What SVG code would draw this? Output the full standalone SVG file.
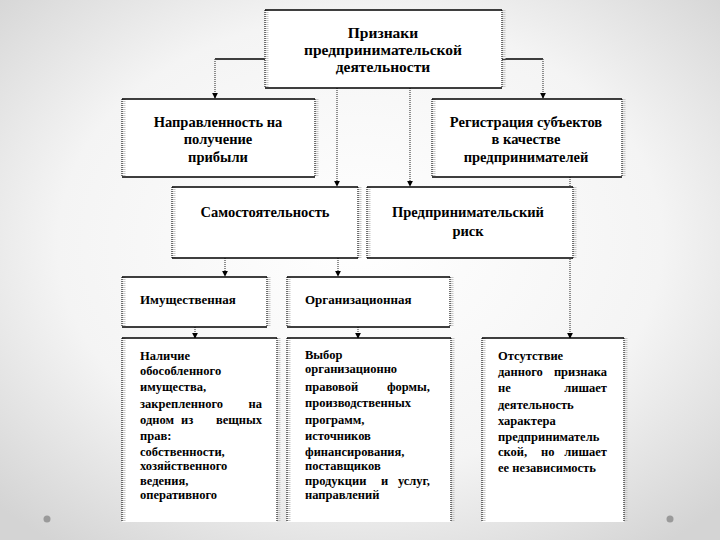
<svg xmlns="http://www.w3.org/2000/svg" width="720" height="540" viewBox="0 0 720 540">
<defs>
<radialGradient id="bg" cx="50%" cy="45%" r="70%">
<stop offset="0" stop-color="#ffffff"/>
<stop offset="0.6" stop-color="#f4f4f4"/>
<stop offset="1" stop-color="#d4d4d4"/>
</radialGradient>
<marker id="arr" viewBox="0 0 8 8" refX="7" refY="4" markerWidth="6" markerHeight="6" orient="auto" markerUnits="userSpaceOnUse">
<path d="M0,0 L8,4 L0,8 z" fill="#000"/>
</marker>
<style>
.box{fill:#fff;stroke:none}
.hb{stroke:#000;stroke-width:1.5;fill:none}
.vb{stroke:#444;stroke-width:1.5;stroke-dasharray:1 1;fill:none}
.sh{stroke:#c8c8c8;stroke-width:3;stroke-dasharray:1 1;fill:none}
.h{stroke:#000;stroke-width:1.5;fill:none}
.v{stroke:#555;stroke-width:1.3;stroke-dasharray:1 1;fill:none}
.t{font-family:"Liberation Serif","Times New Roman","DejaVu Serif",serif;font-weight:bold;fill:#000}
.c{text-anchor:middle;font-size:14.5px}
.big{font-size:15.5px}
.s{font-size:12.5px}
.m{font-size:13px}
.r{text-anchor:end}
</style>
</defs>
<rect width="720" height="540" fill="url(#bg)"/>
<circle cx="47" cy="519" r="3.5" fill="#9a9a9a"/>
<circle cx="670" cy="519" r="3.5" fill="#9a9a9a"/>

<g id="connectors">
<path class="h" d="M265,59 H215"/>
<path class="v" d="M215,59 V98" marker-end="url(#arr)"/>
<path class="h" d="M502,59 H543"/>
<path class="v" d="M543,59 V98" marker-end="url(#arr)"/>
<path class="v" d="M337,88 V186" marker-end="url(#arr)"/>
<path class="v" d="M410,88 V186" marker-end="url(#arr)"/>
<path class="v" d="M225,258 V276" marker-end="url(#arr)"/>
<path class="v" d="M338,258 V276" marker-end="url(#arr)"/>
<path class="v" d="M195,327 V338" marker-end="url(#arr)"/>
<path class="v" d="M358,327 V338" marker-end="url(#arr)"/>
<path class="v" d="M570,177 V338" marker-end="url(#arr)"/>
</g>

<g id="n-top">
<rect class="box" x="265" y="10" width="237" height="78"/>
<path class="sh" d="M267,10 V88 M504,10 V88"/>
<path class="vb" d="M265,10 V88 M502,10 V88"/>
<path class="hb" d="M265,10 H502 M265,88 H502"/>
<text class="t c big" x="383" y="38">Признаки</text>
<text class="t c big" x="383" y="55">предпринимательской</text>
<text class="t c big" x="383" y="72">деятельности</text>
</g>

<g id="n-profit">
<rect class="box" x="122" y="99" width="193" height="78"/>
<path class="sh" d="M124,99 V177 M317,99 V177"/>
<path class="vb" d="M122,99 V177 M315,99 V177"/>
<path class="hb" d="M122,99 H315 M122,177 H315"/>
<text class="t c" x="218" y="127">Направленность на</text>
<text class="t c" x="218" y="144">получение</text>
<text class="t c" x="218" y="162">прибыли</text>
</g>

<g id="n-reg">
<rect class="box" x="432" y="99" width="190" height="78"/>
<path class="sh" d="M434,99 V177 M624,99 V177"/>
<path class="vb" d="M432,99 V177 M622,99 V177"/>
<path class="hb" d="M432,99 H622 M432,177 H622"/>
<text class="t c" x="526" y="127">Регистрация субъектов</text>
<text class="t c" x="526" y="144">в качестве</text>
<text class="t c" x="526" y="162">предпринимателей</text>
</g>

<g id="n-indep">
<rect class="box" x="172" y="187" width="186" height="71"/>
<path class="sh" d="M174,187 V258 M360,187 V258"/>
<path class="vb" d="M172,187 V258 M358,187 V258"/>
<path class="hb" d="M172,187 H358 M172,258 H358"/>
<text class="t c" x="265" y="217">Самостоятельность</text>
</g>

<g id="n-risk">
<rect class="box" x="367" y="187" width="206" height="71"/>
<path class="sh" d="M369,187 V258 M575,187 V258"/>
<path class="vb" d="M367,187 V258 M573,187 V258"/>
<path class="hb" d="M367,187 H573 M367,258 H573"/>
<text class="t c" x="468" y="217">Предпринимательский</text>
<text class="t c" x="468" y="236">риск</text>
</g>

<g id="n-prop">
<rect class="box" x="122" y="277" width="145" height="50"/>
<path class="sh" d="M124,277 V327 M269,277 V327"/>
<path class="vb" d="M122,277 V327 M267,277 V327"/>
<path class="hb" d="M122,277 H267 M122,327 H267"/>
<text class="t m" x="140" y="304">Имущественная</text>
</g>

<g id="n-org">
<rect class="box" x="287" y="277" width="163" height="50"/>
<path class="sh" d="M289,277 V327 M452,277 V327"/>
<path class="vb" d="M287,277 V327 M450,277 V327"/>
<path class="hb" d="M287,277 H450 M287,327 H450"/>
<text class="t m" x="305" y="304">Организационная</text>
</g>

<g id="n-prop-desc">
<rect class="box" x="122" y="338" width="155" height="184"/>
<path class="sh" d="M124,338 V522 M279,338 V522"/>
<path class="vb" d="M122,338 V522 M277,338 V522"/>
<path class="hb" d="M122,338 H277"/>
<g class="t s">
<text x="140" y="360">Наличие</text>
<text x="140" y="375">обособленного</text>
<text x="140" y="391">имущества,</text>
<text x="140" y="408">закрепленного</text><text class="r" x="262" y="408">на</text>
<text x="140" y="424">одном</text><text x="181" y="424">из</text><text class="r" x="262" y="424">вещных</text>
<text x="140" y="440">прав:</text>
<text x="140" y="456">собственности,</text>
<text x="140" y="470">хозяйственного</text>
<text x="140" y="485">ведения,</text>
<text x="140" y="499">оперативного</text>
</g>
</g>

<g id="n-org-desc">
<rect class="box" x="287" y="338" width="164" height="184"/>
<path class="sh" d="M289,338 V522 M453,338 V522"/>
<path class="vb" d="M287,338 V522 M451,338 V522"/>
<path class="hb" d="M287,338 H451"/>
<g class="t s">
<text x="305" y="359">Выбор</text>
<text x="305" y="373">организационно</text>
<text x="305" y="391">правовой</text><text class="r" x="430" y="391">формы,</text>
<text x="305" y="407">производственных</text>
<text x="305" y="424">программ,</text>
<text x="305" y="440">источников</text>
<text x="305" y="456">финансирования,</text>
<text x="305" y="470">поставщиков</text>
<text x="305" y="485">продукции</text><text x="381" y="485">и</text><text class="r" x="430" y="485">услуг,</text>
<text x="305" y="499">направлений</text>
</g>
</g>

<g id="n-risk-desc">
<rect class="box" x="482" y="338" width="142" height="184"/>
<path class="sh" d="M484,338 V522 M626,338 V522"/>
<path class="vb" d="M482,338 V522 M624,338 V522"/>
<path class="hb" d="M482,338 H624"/>
<g class="t s">
<text x="498" y="360">Отсутствие</text>
<text x="498" y="376">данного</text><text class="r" x="607" y="376">признака</text>
<text x="498" y="392">не</text><text class="r" x="607" y="392">лишает</text>
<text x="498" y="409">деятельность</text>
<text x="498" y="425">характера</text>
<text x="498" y="441">предприниматель</text>
<text x="498" y="456">ской,</text><text x="541" y="456">но</text><text class="r" x="607" y="456">лишает</text>
<text x="498" y="472">ее независимость</text>
</g>
</g>
</svg>
